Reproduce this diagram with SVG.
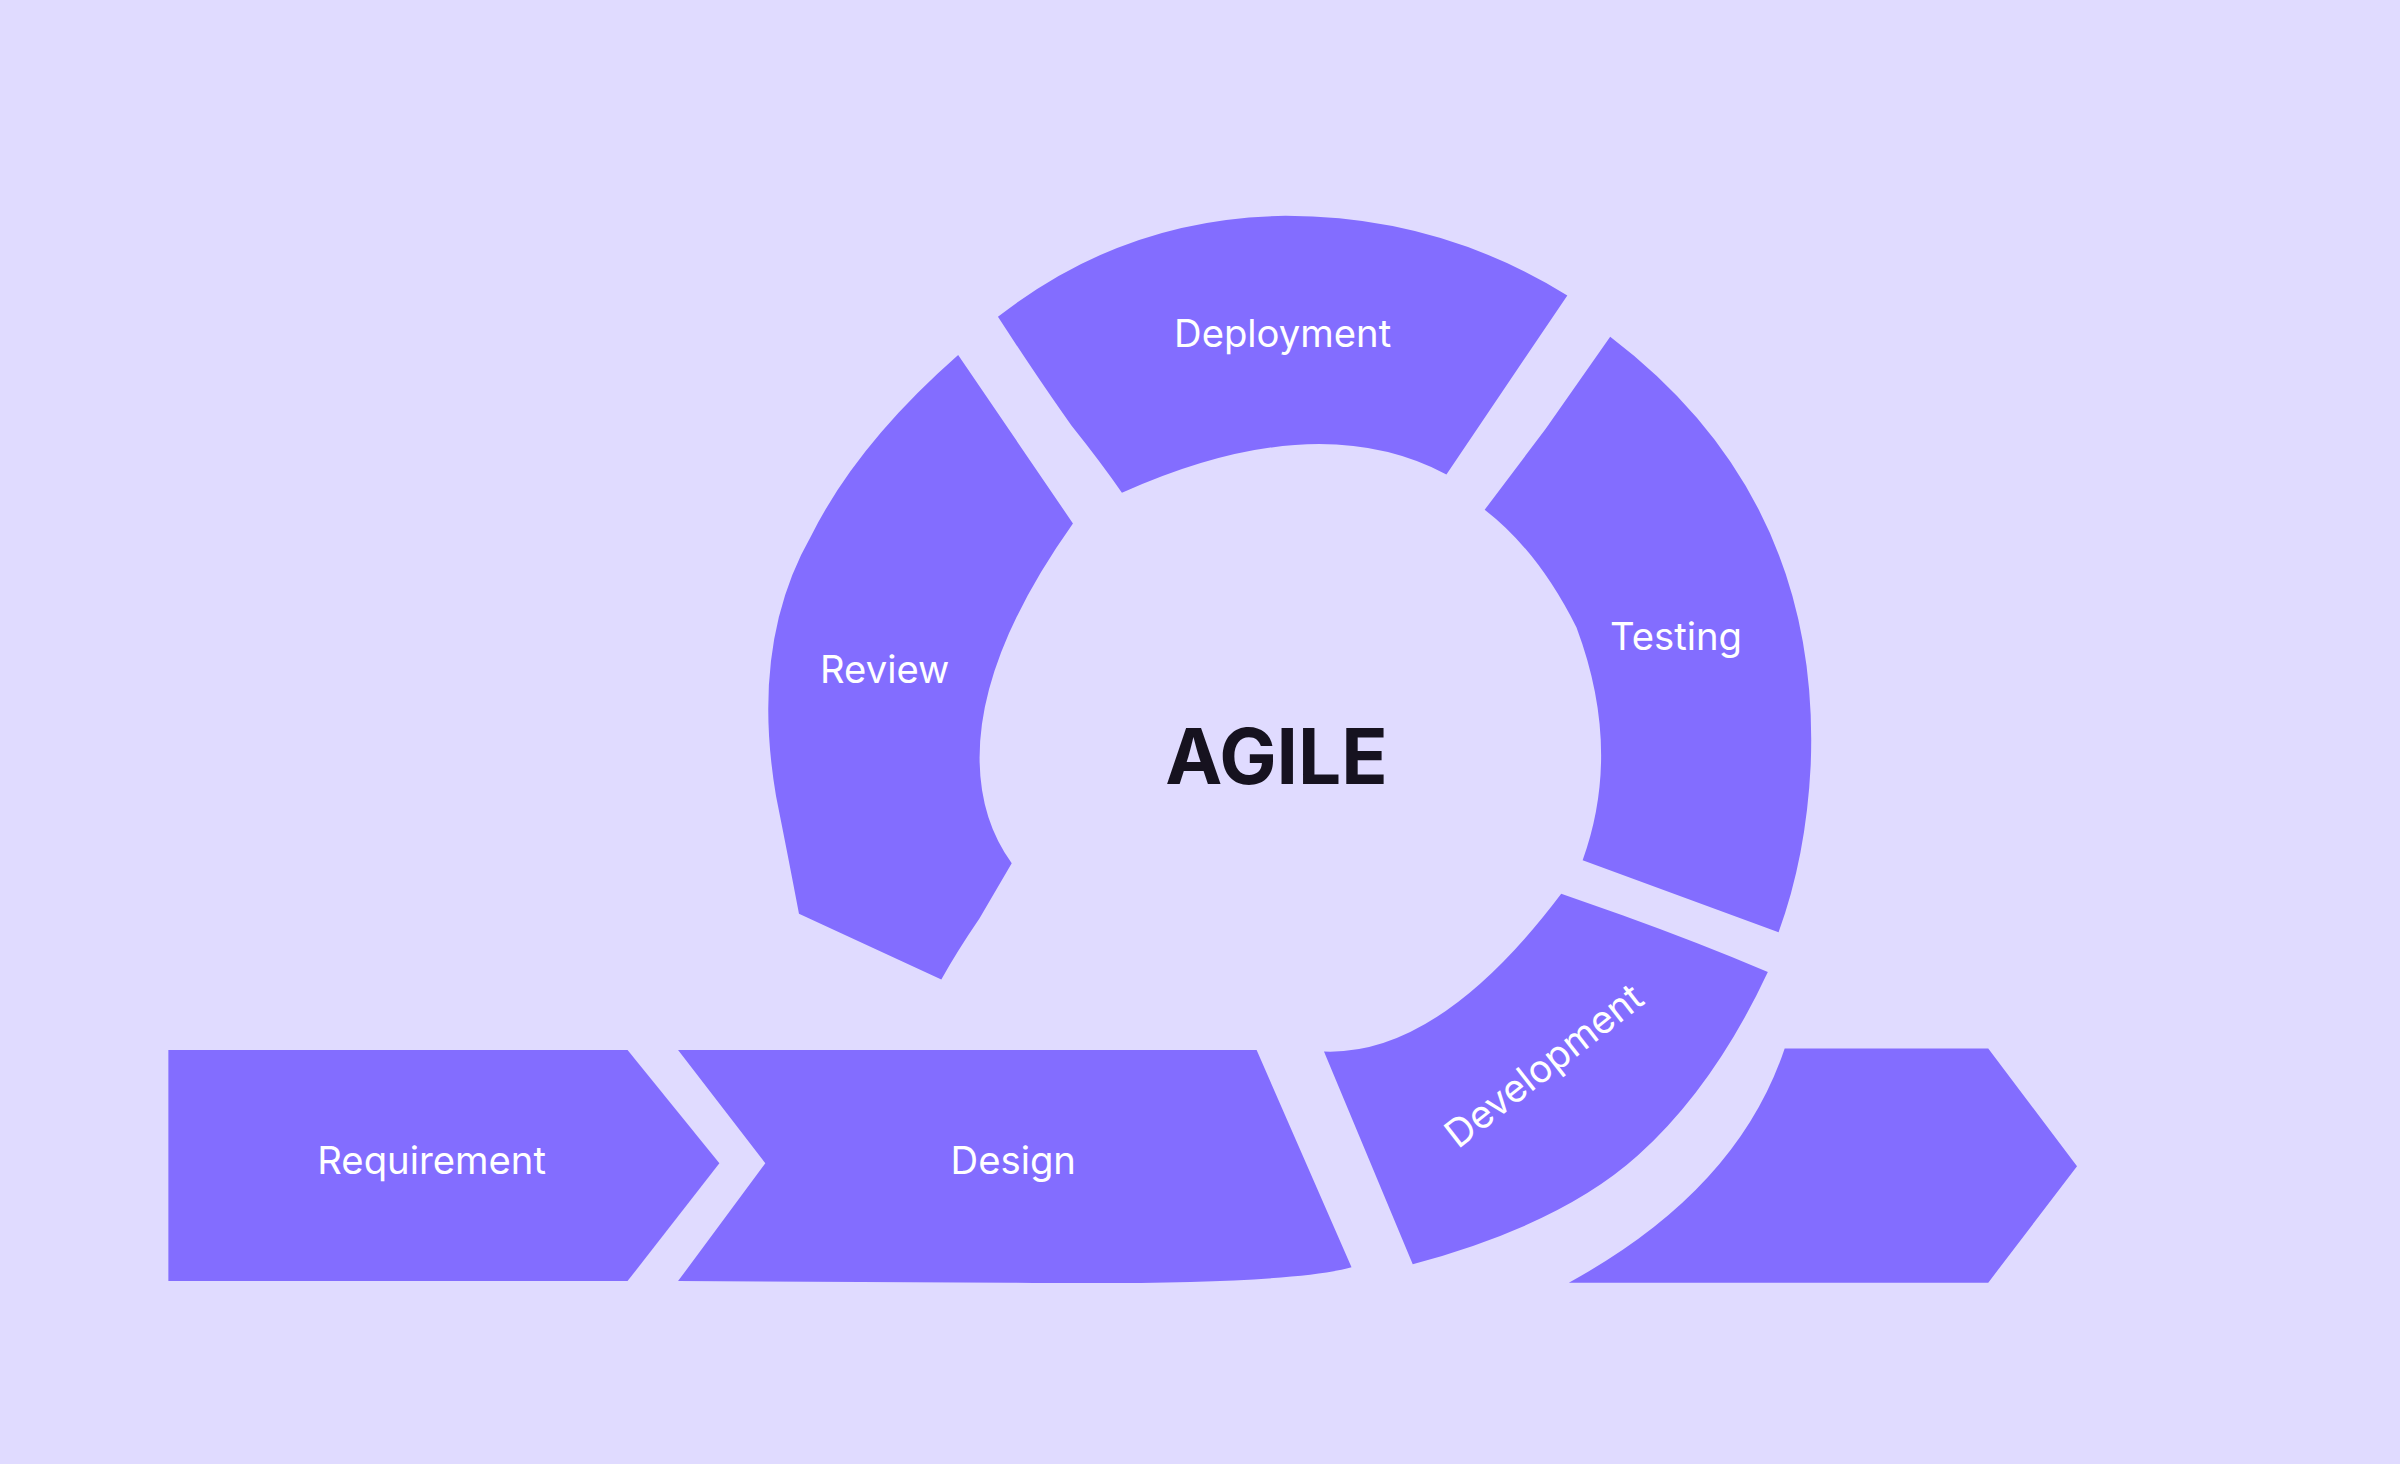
<svg xmlns="http://www.w3.org/2000/svg" width="2400" height="1464" viewBox="0 0 2400 1464">
<style>
.seg{fill:#836DFF}
.lbl{fill:#fff;font-family:Inter,"Open Sans",sans-serif;font-size:25px;text-anchor:middle}
.title{fill:#16121f;font-family:Inter,"Open Sans",sans-serif;font-size:50px;font-weight:700;text-anchor:middle}
</style>
<rect width="2400" height="1464" fill="#E0DBFF"/>
<g transform="scale(1.5306)">
<g id="connectors"/>
<g id="requirement"><path class="seg" d="M110,686 L410,686 L470,760 L410,837 L110,837 Z"/><text class="lbl" x="282" y="767">Requirement</text></g>
<g id="design"><path class="seg" d="M443,686 L821,686 L883,828 Q840,840 660,838 L443,837 L500,760 Z"/><text class="lbl" x="662" y="767">Design</text></g>
<g id="development"><path class="seg" d="M865,687 Q940,690 1020,584 L1060,598 Q1110,616 1155,635 Q1120,710 1070,755 Q1020,800 923,826 Z"/><text class="lbl" transform="translate(1014,703) rotate(-38)">Development</text></g>
<g id="next"><path class="seg" d="M1025,838 Q1135,778 1166,685 L1299,685 L1357,762 L1299,838 Z"/></g>
<g id="testing"><path class="seg" d="M1052,220 Q1190,325 1183,500 Q1180,560 1162,609 L1034,562 Q1060,490 1030,410 Q1005,360 970,333 L1010,280 Z"/><text class="lbl" x="1095" y="425">Testing</text></g>
<g id="deployment"><path class="seg" d="M652,207 Q735,142 840,141 Q940,141 1024,193 L945,310 Q860,265 733,322 Q720,303 700,278 Q680,250 652,207 Z"/><text class="lbl" x="838" y="227">Deployment</text></g>
<g id="review"><path class="seg" d="M626,232 L701,342 Q640,428 640,495 Q640,535 661,564 L640,600 Q625,622 615,640 L522,597 Q515,560 507,520 Q490,420 530,350 Q560,290 626,232 Z"/><text class="lbl" x="578" y="446">Review</text></g>
<g id="agile"><text class="title" x="834" y="512">AGILE</text></g>
</g>
</svg>
